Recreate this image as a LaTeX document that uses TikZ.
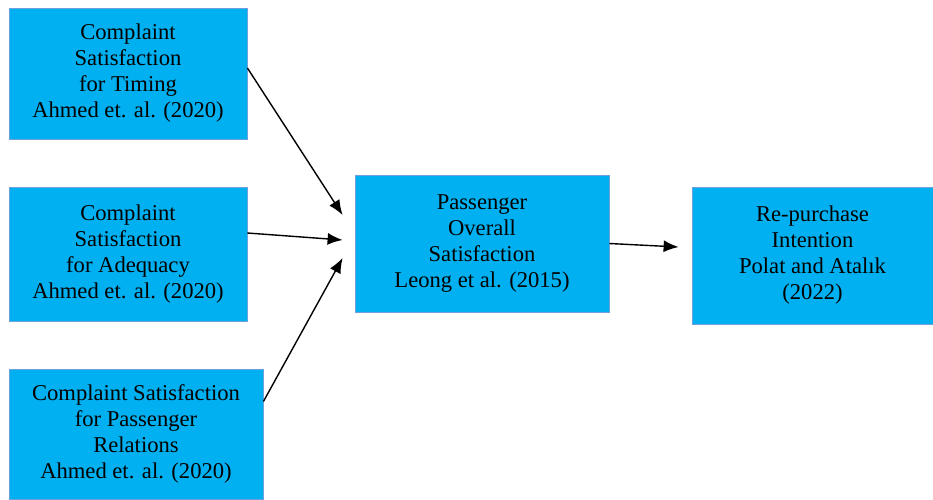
\documentclass[tikz,border=0pt]{standalone}
\usepackage{fontspec}
\setmainfont{Liberation Serif}
\newfontfamily\tnr{Liberation Serif}
\usetikzlibrary{arrows.meta}
\definecolor{azul}{HTML}{00B0F0}
\definecolor{borda}{HTML}{6FA0DC}
\begin{document}
\begin{tikzpicture}[
                x=1pt, y=-1pt,
                caixa/.style={shape=rectangle, fill=azul, draw=borda, line width=0.8pt, align=center, inner sep=0pt, font=\tnr\fontsize{22.6}{26}\selectfont},
                seta/.style={-{Latex[length=15pt,width=12pt]}, line width=1.4pt},
            ]
            \useasboundingbox (0,0) rectangle (933,499);
            \node[caixa, minimum width=238pt, minimum height=131pt] (tempo) at (128, 73.5) {Complaint\\Satisfaction\\for Timing\\Ahmed et. al. (2020)};
            \node[caixa, minimum width=238pt, minimum height=134pt] (adequacao) at (128, 254) {Complaint\\Satisfaction\\for Adequacy\\Ahmed et. al. (2020)};
            \node[caixa, minimum width=254pt, minimum height=130pt] (relacoes) at (136, 434) {Complaint Satisfaction\\for Passenger\\Relations\\Ahmed et. al. (2020)};
            \node[caixa, minimum width=254pt, minimum height=137pt] (satisfacao) at (482, 243.5) {Passenger\\Overall\\Satisfaction\\Leong et al. (2015)};
            \node[caixa, minimum width=241pt, minimum height=137pt] (recompra) at (812.5, 255.5) {Re-purchase\\Intention\\Polat and Atalık\\(2022)};
            \draw[seta] ([yshift=5.5pt]tempo.east) -- ([xshift=-12pt,yshift=28.5pt]satisfacao.west);
            \draw[seta] ([yshift=21pt]adequacao.east) -- ([xshift=-12pt,yshift=3.5pt]satisfacao.west);
            \draw[seta] ([yshift=32.5pt]relacoes.east) -- ([xshift=-12pt,yshift=-14.5pt]satisfacao.west);
            \draw[seta] (satisfacao.east) -- ([xshift=-13pt,yshift=8.5pt]recompra.west);
        \end{tikzpicture}
\end{document}
